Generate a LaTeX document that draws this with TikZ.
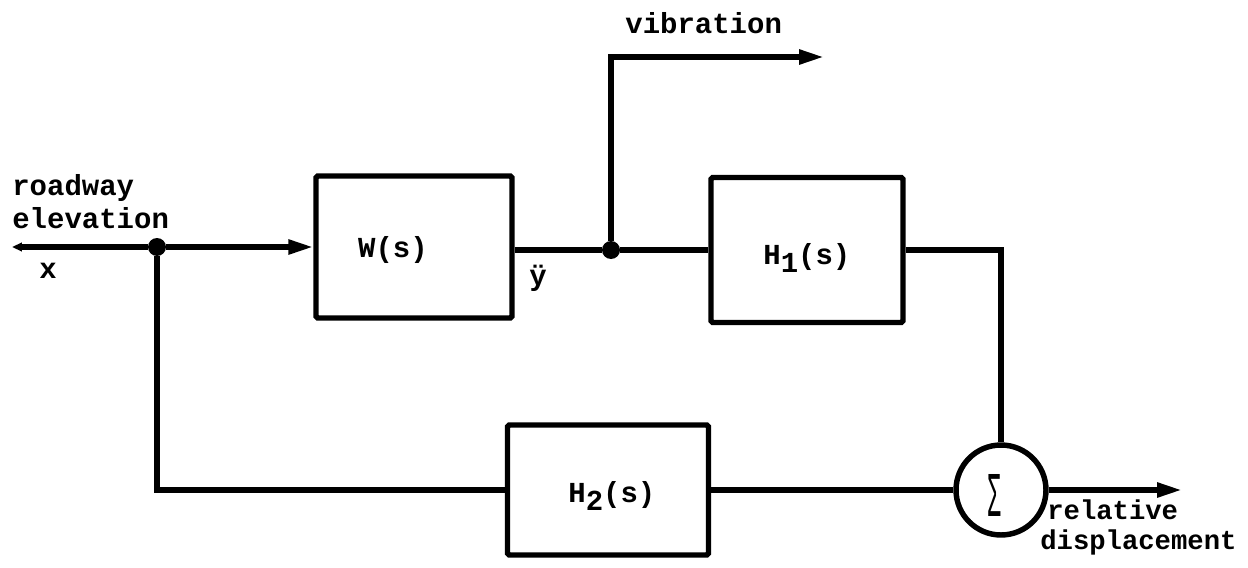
\documentclass[tikz,border=0pt]{standalone}
\usepackage{fontspec}
\setmainfont{Liberation Mono}
\usetikzlibrary{arrows.meta}
\begin{document}
\begin{tikzpicture}[x=0.02cm,y=-0.02cm,
  wire/.style={line width=3.1pt},
  sig/.style={wire,-{Triangle[length=0.5cm,width=0.28cm]}},
  blk/.style={draw,line width=3.1pt,inner sep=0pt,rounded corners=1pt},
  lbl/.style={inner sep=0pt,font=\fontsize{16.5}{19}\selectfont\bfseries},
  olbl/.style={inner sep=0pt,font=\fontsize{15.5}{17}\selectfont\bfseries},
  dotn/.style={circle,fill,inner sep=0pt,minimum size=0.36cm}]
\useasboundingbox (0,0) rectangle (1248,568);
% blocks
\node[blk,minimum width=3.92cm,minimum height=2.84cm] (W) at (414,247) {};
\node[blk,minimum width=3.84cm,minimum height=2.9cm] (H1) at (807,250) {};
\node[blk,minimum width=4.02cm,minimum height=2.6cm] (H2) at (608,490) {};
\node[draw,circle,line width=3.1pt,minimum size=1.8cm,inner sep=0pt] (S) at (1001,490) {};
% junctions
\node[dotn] (J1) at (157,247) {};
\node[dotn] (J2) at (611,250) {};
\coordinate (IN) at (12,247);
\coordinate (VIB) at (824,57);
\coordinate (OUT) at (1182,496);
% labels
\node[lbl,anchor=center] (Wl) at (393,250) {W(s)};
\node[lbl,anchor=west] (H1l) at (763,258) {H\raisebox{-0.55ex}{1}(s)};
\node[lbl,anchor=west] (H2l) at (568,496) {H\raisebox{-0.55ex}{2}(s)};
\node[inner sep=0pt,font=\fontsize{16.5}{19}\selectfont,anchor=center] (Sl) at (994,495) {\scalebox{0.8}[2.2]{Σ}};
\node[lbl,anchor=base west] (r1) at (12,195) {roadway};
\node[lbl,anchor=base west] (r2) at (12,228) {elevation};
\node[lbl,anchor=center] (xl) at (48,271) {x};
\node[lbl,anchor=base west] (vl) at (625,33) {vibration};
\node[lbl,anchor=base] (yl) at (538,285) {\"y};
\node[olbl,anchor=base west] (o1) at (1047,519) {relative};
\node[olbl,anchor=base west] (o2) at (1040,549) {displacement};
% connectors
\draw[wire,{Triangle[length=0.2cm,width=0.17cm]}-] (IN) -- (J1);
\draw[sig] (J1) -- (W.west);
\draw[wire] (W.east |- J2) -- (J2) -- (H1.west);
\draw[sig] (J2) |- (VIB);
\draw[wire] (H1.east) -| (S.north);
\draw[wire] (J1) |- (H2.west);
\draw[wire] (H2.east) -- (S.west);
\draw[sig] (S.east) -- (S.east -| OUT);
\end{tikzpicture}
\end{document}
